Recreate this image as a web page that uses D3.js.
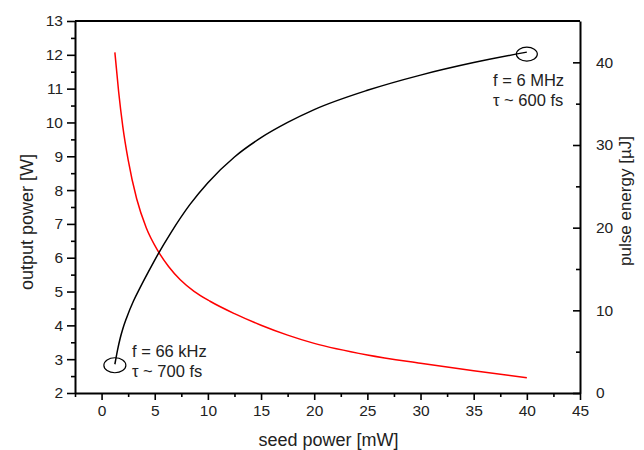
<!DOCTYPE html>
<html>
<head>
<meta charset="utf-8">
<script src="https://cdn.jsdelivr.net/npm/d3@7"></script>
<style>
  body { margin: 0; background: #fff; }
  svg { font-family: "Liberation Sans", Arial, sans-serif; }
</style>
</head>
<body>
<svg id="chart" width="644" height="450"></svg>
<script>
// seed power [mW] vs output power [W]
const seedPower = [1.25, 1.5, 1.75, 2.0, 2.35, 3.0, 3.6, 4.4, 5.3, 6.5, 8.3, 10, 12.5, 15, 17.5, 20, 25, 30, 35, 40];
const outputPower = [2.85, 3.27, 3.62, 3.9, 4.22, 4.72, 5.1, 5.58, 6.1, 6.73, 7.57, 8.22, 8.98, 9.55, 10.0, 10.38, 10.95, 11.4, 11.77, 12.08];

// seed power [mW] vs pulse energy [uJ]
const seedPowerE = [1.25, 1.6, 2.0, 2.5, 3.3, 4.2, 5.3, 6.3, 7.4, 8.7, 10.2, 12.5, 15, 17.5, 20, 25, 30, 35, 40];
const pulseEnergy = [41.2, 36.5, 32.2, 28.2, 23.5, 20.0, 17.2, 15.3, 13.7, 12.3, 11.1, 9.6, 8.2, 7.0, 6.0, 4.6, 3.6, 2.7, 1.85];

const xTicks = [0, 5, 10, 15, 20, 25, 30, 35, 40, 45];
const yLeftTicks = [2, 3, 4, 5, 6, 7, 8, 9, 10, 11, 12, 13];
const yRightTicks = [0, 10, 20, 30, 40];

const svg = d3.select("#chart");
const margin = { top: 21, right: 64, bottom: 57, left: 75 };
const width = 644, height = 450;

const x = d3.scaleLinear().domain([-2.5, 45]).range([margin.left, width - margin.right]);
const y1 = d3.scaleLinear().domain([2, 13]).range([height - margin.bottom, margin.top]);
const y2 = d3.scaleLinear().domain([0, 45]).range([height - margin.bottom, margin.top]);

// frame top line
svg.append("line")
  .attr("x1", x(-2.5)).attr("x2", x(45))
  .attr("y1", margin.top).attr("y2", margin.top)
  .attr("stroke", "#000").attr("stroke-width", 2);

const styleAxis = (g) => {
  g.selectAll("path.domain").attr("stroke-width", 2);
  g.selectAll(".tick line").attr("stroke-width", 1.6);
  g.selectAll("text").attr("fill", "#222");
};

// bottom axis
svg.append("g")
  .attr("transform", `translate(0,${height - margin.bottom})`)
  .call(d3.axisBottom(x).tickValues(xTicks.map((t) => t - 2.5)).tickSize(4).tickFormat(""))
  .call((g) => g.select(".domain").remove())
  .call(styleAxis);
svg.append("g")
  .attr("transform", `translate(0,${height - margin.bottom})`)
  .call(d3.axisBottom(x).tickValues(xTicks).tickSize(7).tickSizeOuter(0).tickPadding(5))
  .call((g) => g.selectAll("text").attr("font-size", 15.5))
  .call(styleAxis);

// left axis
svg.append("g")
  .attr("transform", `translate(${margin.left},0)`)
  .call(d3.axisLeft(y1).tickValues(yLeftTicks.slice(0, -1).map((t) => t + 0.5)).tickSize(4).tickFormat(""))
  .call((g) => g.select(".domain").remove())
  .call(styleAxis);
svg.append("g")
  .attr("transform", `translate(${margin.left},0)`)
  .call(d3.axisLeft(y1).tickValues(yLeftTicks).tickSize(8).tickSizeOuter(0).tickPadding(4))
  .call((g) => g.selectAll("text").attr("font-size", 15.5))
  .call(styleAxis);

// right axis (ticks point inward)
svg.append("g")
  .attr("transform", `translate(${width - margin.right},0)`)
  .call(d3.axisRight(y2).tickValues(yRightTicks.slice(0, -1).map((t) => t + 5)).tickSize(-4).tickFormat(""))
  .call((g) => g.select(".domain").remove())
  .call(styleAxis);
svg.append("g")
  .attr("transform", `translate(${width - margin.right},0)`)
  .call(d3.axisRight(y2).tickValues(yRightTicks).tickSize(-7).tickSizeOuter(0).tickPadding(16))
  .call((g) => g.selectAll("text").attr("font-size", 15.5))
  .call(styleAxis);

// axis titles
svg.append("text")
  .attr("x", (x(-2.5) + x(45)) / 2 + 1).attr("y", 446)
  .attr("text-anchor", "middle").attr("font-size", 18).attr("fill", "#222")
  .text("seed power [mW]");
svg.append("text")
  .attr("transform", `translate(33,${(y1(2) + y1(13)) / 2 + 15}) rotate(-90)`)
  .attr("text-anchor", "middle").attr("font-size", 18).attr("fill", "#222")
  .text("output power [W]");
svg.append("text")
  .attr("transform", `translate(631,${(y1(2) + y1(13)) / 2 - 6}) rotate(-90)`)
  .attr("text-anchor", "middle").attr("font-size", 17).attr("fill", "#222")
  .text("pulse energy [\u00b5J]");

// curves
const lineP = d3.line().x((d, i) => x(seedPower[i])).y((d) => y1(d)).curve(d3.curveMonotoneX);
const lineE = d3.line().x((d, i) => x(seedPowerE[i])).y((d) => y2(d)).curve(d3.curveMonotoneX);

svg.append("path")
  .datum(pulseEnergy)
  .attr("fill", "none").attr("stroke", "#ff0000").attr("stroke-width", 1.5)
  .attr("d", lineE);

svg.append("path")
  .datum(outputPower)
  .attr("fill", "none").attr("stroke", "#000").attr("stroke-width", 1.5)
  .attr("d", lineP);

// annotations: circled end points and their labels
const first = 0, last = seedPower.length - 1;
svg.append("ellipse")
  .attr("cx", x(seedPower[first])).attr("cy", y1(outputPower[first]) + 1)
  .attr("rx", 11).attr("ry", 7.5)
  .attr("fill", "none").attr("stroke", "#000").attr("stroke-width", 1.2);
svg.append("ellipse")
  .attr("cx", x(seedPower[last])).attr("cy", y1(outputPower[last]) + 2)
  .attr("rx", 10.5).attr("ry", 7)
  .attr("fill", "none").attr("stroke", "#000").attr("stroke-width", 1.2);

const note = (tx, ty, lines) => {
  const t = svg.append("text").attr("font-size", 16.5).attr("fill", "#222");
  lines.forEach((s, i) => t.append("tspan").attr("x", tx).attr("y", ty + i * 20).text(s));
};
note(132, 357, ["f = 66 kHz", "\u03c4 ~ 700 fs"]);
note(493, 86, ["f = 6 MHz", "\u03c4 ~ 600 fs"]);
</script>
</body>
</html>
